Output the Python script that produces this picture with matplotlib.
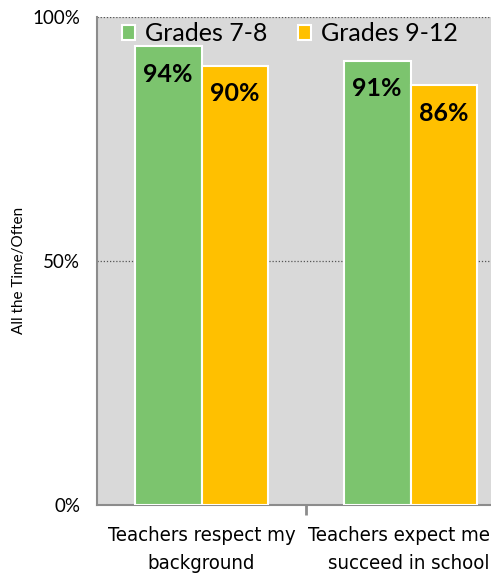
import numpy as np
import matplotlib.pyplot as plt
from matplotlib import font_manager
from matplotlib.transforms import blended_transform_factory

categories = ["Teachers respect my\nbackground", "Teachers expect me\nsucceed in school"]
series_names = ["Grades 7-8", "Grades 9-12"]
grades_7_8 = [94, 91]
grades_9_12 = [90, 86]
y_ticks = [0, 50, 100]
y_tick_labels = ["0%", "50%", "100%"]

GREEN = "#7CC46E"
GOLD = "#FFC000"
PANEL = "#D9D9D9"
AXIS_GRAY = "#8C8C8C"

fonts = font_manager.fontManager.ttflist
names = {f.name for f in fonts}
body_font = "Lato" if "Lato" in names else "DejaVu Sans"

# narrow sans for the category labels, if one is installed
narrow = {"family": "Liberation Sans"}
if "Liberation Sans Narrow" in names:
    narrow = {"family": "Liberation Sans Narrow"}
elif any(f.name == "DejaVu Sans" and "ondensed" in f.fname for f in fonts):
    narrow = {"family": "DejaVu Sans", "fontstretch": "condensed"}

fig = plt.figure(figsize=(4.91, 5.77), dpi=100)
ax = fig.add_axes([97 / 491, 72 / 577, 418 / 491, 488 / 577])
ax.set_facecolor(PANEL)

x = np.arange(len(categories))
w = 0.32
bars1 = ax.bar(x - w / 2, grades_7_8, w, color=GREEN, edgecolor="white", linewidth=1.5,
               label=series_names[0], zorder=3)
bars2 = ax.bar(x + w / 2, grades_9_12, w, color=GOLD, edgecolor="white", linewidth=1.5,
               label=series_names[1], zorder=3)

for bars, vals in [(bars1, grades_7_8), (bars2, grades_9_12)]:
    for b, v in zip(bars, vals):
        ax.annotate(f"{v}%", (b.get_x() + b.get_width() / 2, v), xytext=(0, -20),
                    textcoords="offset points", ha="center", va="center",
                    fontsize=18, fontweight="bold", family=body_font, zorder=4)

ax.set_xlim(-0.5, 1.5)
ax.set_ylim(0, 100)
ax.set_yticks(y_ticks)
ax.set_yticklabels(y_tick_labels, family=body_font, fontsize=13.5)
ax.tick_params(axis="y", length=0, pad=12)
ax.yaxis.grid(True, color="#555555", linestyle=(0, (1, 1.5)), linewidth=0.9, zorder=1)

ax.set_xticks([0.5])
ax.set_xticklabels([])
ax.tick_params(axis="x", length=7, width=2, color=AXIS_GRAY)
# first label centred under its group, second one pulled in to stay on the canvas
ax.text(0, -4.3, categories[0], ha="center", va="top", ma="center",
        fontsize=14.6, linespacing=1.6, **narrow)
edge = blended_transform_factory(fig.transFigure, ax.transData)
ax.text(0.997, -4.3, categories[1], ha="right", va="top", ma="right",
        fontsize=14.6, linespacing=1.6, transform=edge, **narrow)

for s in ["top", "right"]:
    ax.spines[s].set_visible(False)
for s in ["left", "bottom"]:
    ax.spines[s].set_color(AXIS_GRAY)
    ax.spines[s].set_linewidth(1.5)

ax.set_ylabel("All the Time/Often", family=body_font, fontsize=11)
ax.yaxis.set_label_coords(-0.17, 0.48)

ax.legend(loc="upper left", bbox_to_anchor=(0.023, 1.02), ncol=2, frameon=False,
          prop={"family": body_font, "size": 18}, handlelength=0.55, handleheight=0.55,
          handletextpad=0.4, columnspacing=1.2, borderaxespad=0.2)

fig.savefig("out.png", dpi=100)
